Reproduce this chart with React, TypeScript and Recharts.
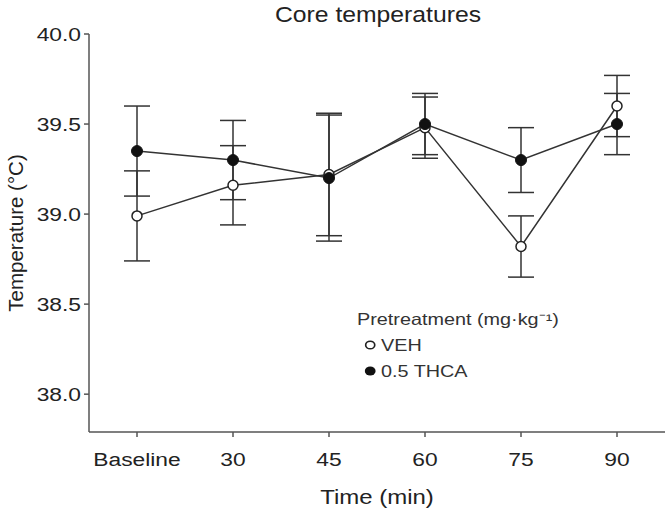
import {
  LineChart,
  Line,
  XAxis,
  YAxis,
  ErrorBar,
} from "recharts";

const times = ["Baseline", "30", "45", "60", "75", "90"];
const veh = [38.99, 39.16, 39.22, 39.48, 38.82, 39.6];
const vehErr = [0.25, 0.22, 0.34, 0.17, 0.17, 0.17];
const thca = [39.35, 39.3, 39.2, 39.5, 39.3, 39.5];
const thcaErr = [0.25, 0.22, 0.35, 0.17, 0.18, 0.17];
const yTicks = [38, 38.5, 39, 39.5, 40];

const data = times.map((t, i) => ({
  time: t,
  veh: veh[i],
  vehErr: vehErr[i],
  thca: thca[i],
  thcaErr: thcaErr[i],
}));

const font = "'Liberation Sans', Arial, sans-serif";
const ink = "#333";
// the original figure is a bit stretched sideways, so its text is wide
const stretch = 1.2;

const WideTick = (props: any) => {
  const { x, y, payload, textAnchor, isY } = props;
  const label = isY ? Number(payload.value).toFixed(1) : payload.value;
  return (
    <g transform={`translate(${x},${y}) scale(${stretch},1)`}>
      <text
        x={0}
        y={0}
        dy={isY ? "0.355em" : "0.71em"}
        textAnchor={textAnchor}
        fontSize={19}
        fill="#222"
        fontFamily={font}
      >
        {label}
      </text>
    </g>
  );
};

const YLabel = (props: any) => {
  const vb = props.viewBox || {};
  const cx = 15;
  const cy = vb.y + vb.height / 2;
  return (
    <text
      x={cx}
      y={cy}
      transform={`rotate(-90 ${cx} ${cy})`}
      textAnchor="middle"
      dominantBaseline="central"
      fontSize={20.5}
      fill="#222"
      fontFamily={font}
    >
      Temperature (°C)
    </text>
  );
};

const XLabel = (props: any) => {
  const vb = props.viewBox || {};
  const cx = vb.x + vb.width / 2;
  return (
    <g transform={`translate(${cx},497) scale(${stretch},1)`}>
      <text
        x={0}
        y={0}
        textAnchor="middle"
        dominantBaseline="central"
        fontSize={20}
        fill="#222"
        fontFamily={font}
      >
        Time (min)
      </text>
    </g>
  );
};

const LegendBox = () => (
  <div
    style={{
      position: "absolute",
      left: 357,
      top: 306,
      fontFamily: font,
      fontSize: 16.5,
      color: "#333",
      lineHeight: "26px",
      transform: `scaleX(${stretch})`,
      transformOrigin: "left top",
      whiteSpace: "nowrap",
    }}
  >
    <div>Pretreatment (mg·kg⁻¹)</div>
    <div style={{ display: "flex", alignItems: "center", paddingLeft: 6 }}>
      <svg width={10} height={12} style={{ marginRight: 4 }}>
        <circle cx={5} cy={6} r={3.8} fill="#fff" stroke="#222" strokeWidth={1.4} />
      </svg>
      VEH
    </div>
    <div style={{ display: "flex", alignItems: "center", paddingLeft: 6 }}>
      <svg width={10} height={12} style={{ marginRight: 4 }}>
        <circle cx={5} cy={6} r={4.5} fill="#111" />
      </svg>
      0.5 THCA
    </div>
  </div>
);

const App = () => {
  return (
    <div style={{ position: "absolute", left: 0, top: 0, width: 670, height: 512, background: "#fff" }}>
      <LineChart
        width={670}
        height={512}
        data={data}
        margin={{ top: 34, right: 5, bottom: 0, left: 0 }}
      >
        <g transform={`translate(378,14.5) scale(1.15,1)`}>
          <text
            x={0}
            y={0}
            textAnchor="middle"
            dominantBaseline="central"
            fontSize={21.5}
            fill="#222"
            fontFamily={font}
          >
            Core temperatures
          </text>
        </g>
        <XAxis
          dataKey="time"
          height={80}
          padding={{ left: 48, right: 48 }}
          stroke="#555"
          strokeWidth={1.5}
          tickSize={5}
          tickMargin={16}
          tick={<WideTick />}
          label={<XLabel />}
        />
        <YAxis
          width={89}
          domain={[37.79, 40]}
          ticks={yTicks}
          allowDataOverflow
          stroke="#555"
          strokeWidth={1.5}
          tickSize={5}
          tickMargin={3}
          tick={<WideTick isY />}
          label={<YLabel />}
        />
        <Line
          dataKey="veh"
          stroke={ink}
          strokeWidth={1.5}
          isAnimationActive={false}
          dot={{ r: 5, fill: "#fff", stroke: "#222", strokeWidth: 1.5 }}
          activeDot={false}
        >
          <ErrorBar dataKey="vehErr" width={13} stroke={ink} strokeWidth={1.5} />
        </Line>
        <Line
          dataKey="thca"
          stroke={ink}
          strokeWidth={1.5}
          isAnimationActive={false}
          dot={{ r: 5.5, fill: "#111", stroke: "#111", strokeWidth: 1 }}
          activeDot={false}
        >
          <ErrorBar dataKey="thcaErr" width={13} stroke={ink} strokeWidth={1.5} />
        </Line>
      </LineChart>
      <LegendBox />
    </div>
  );
};

export default App;
